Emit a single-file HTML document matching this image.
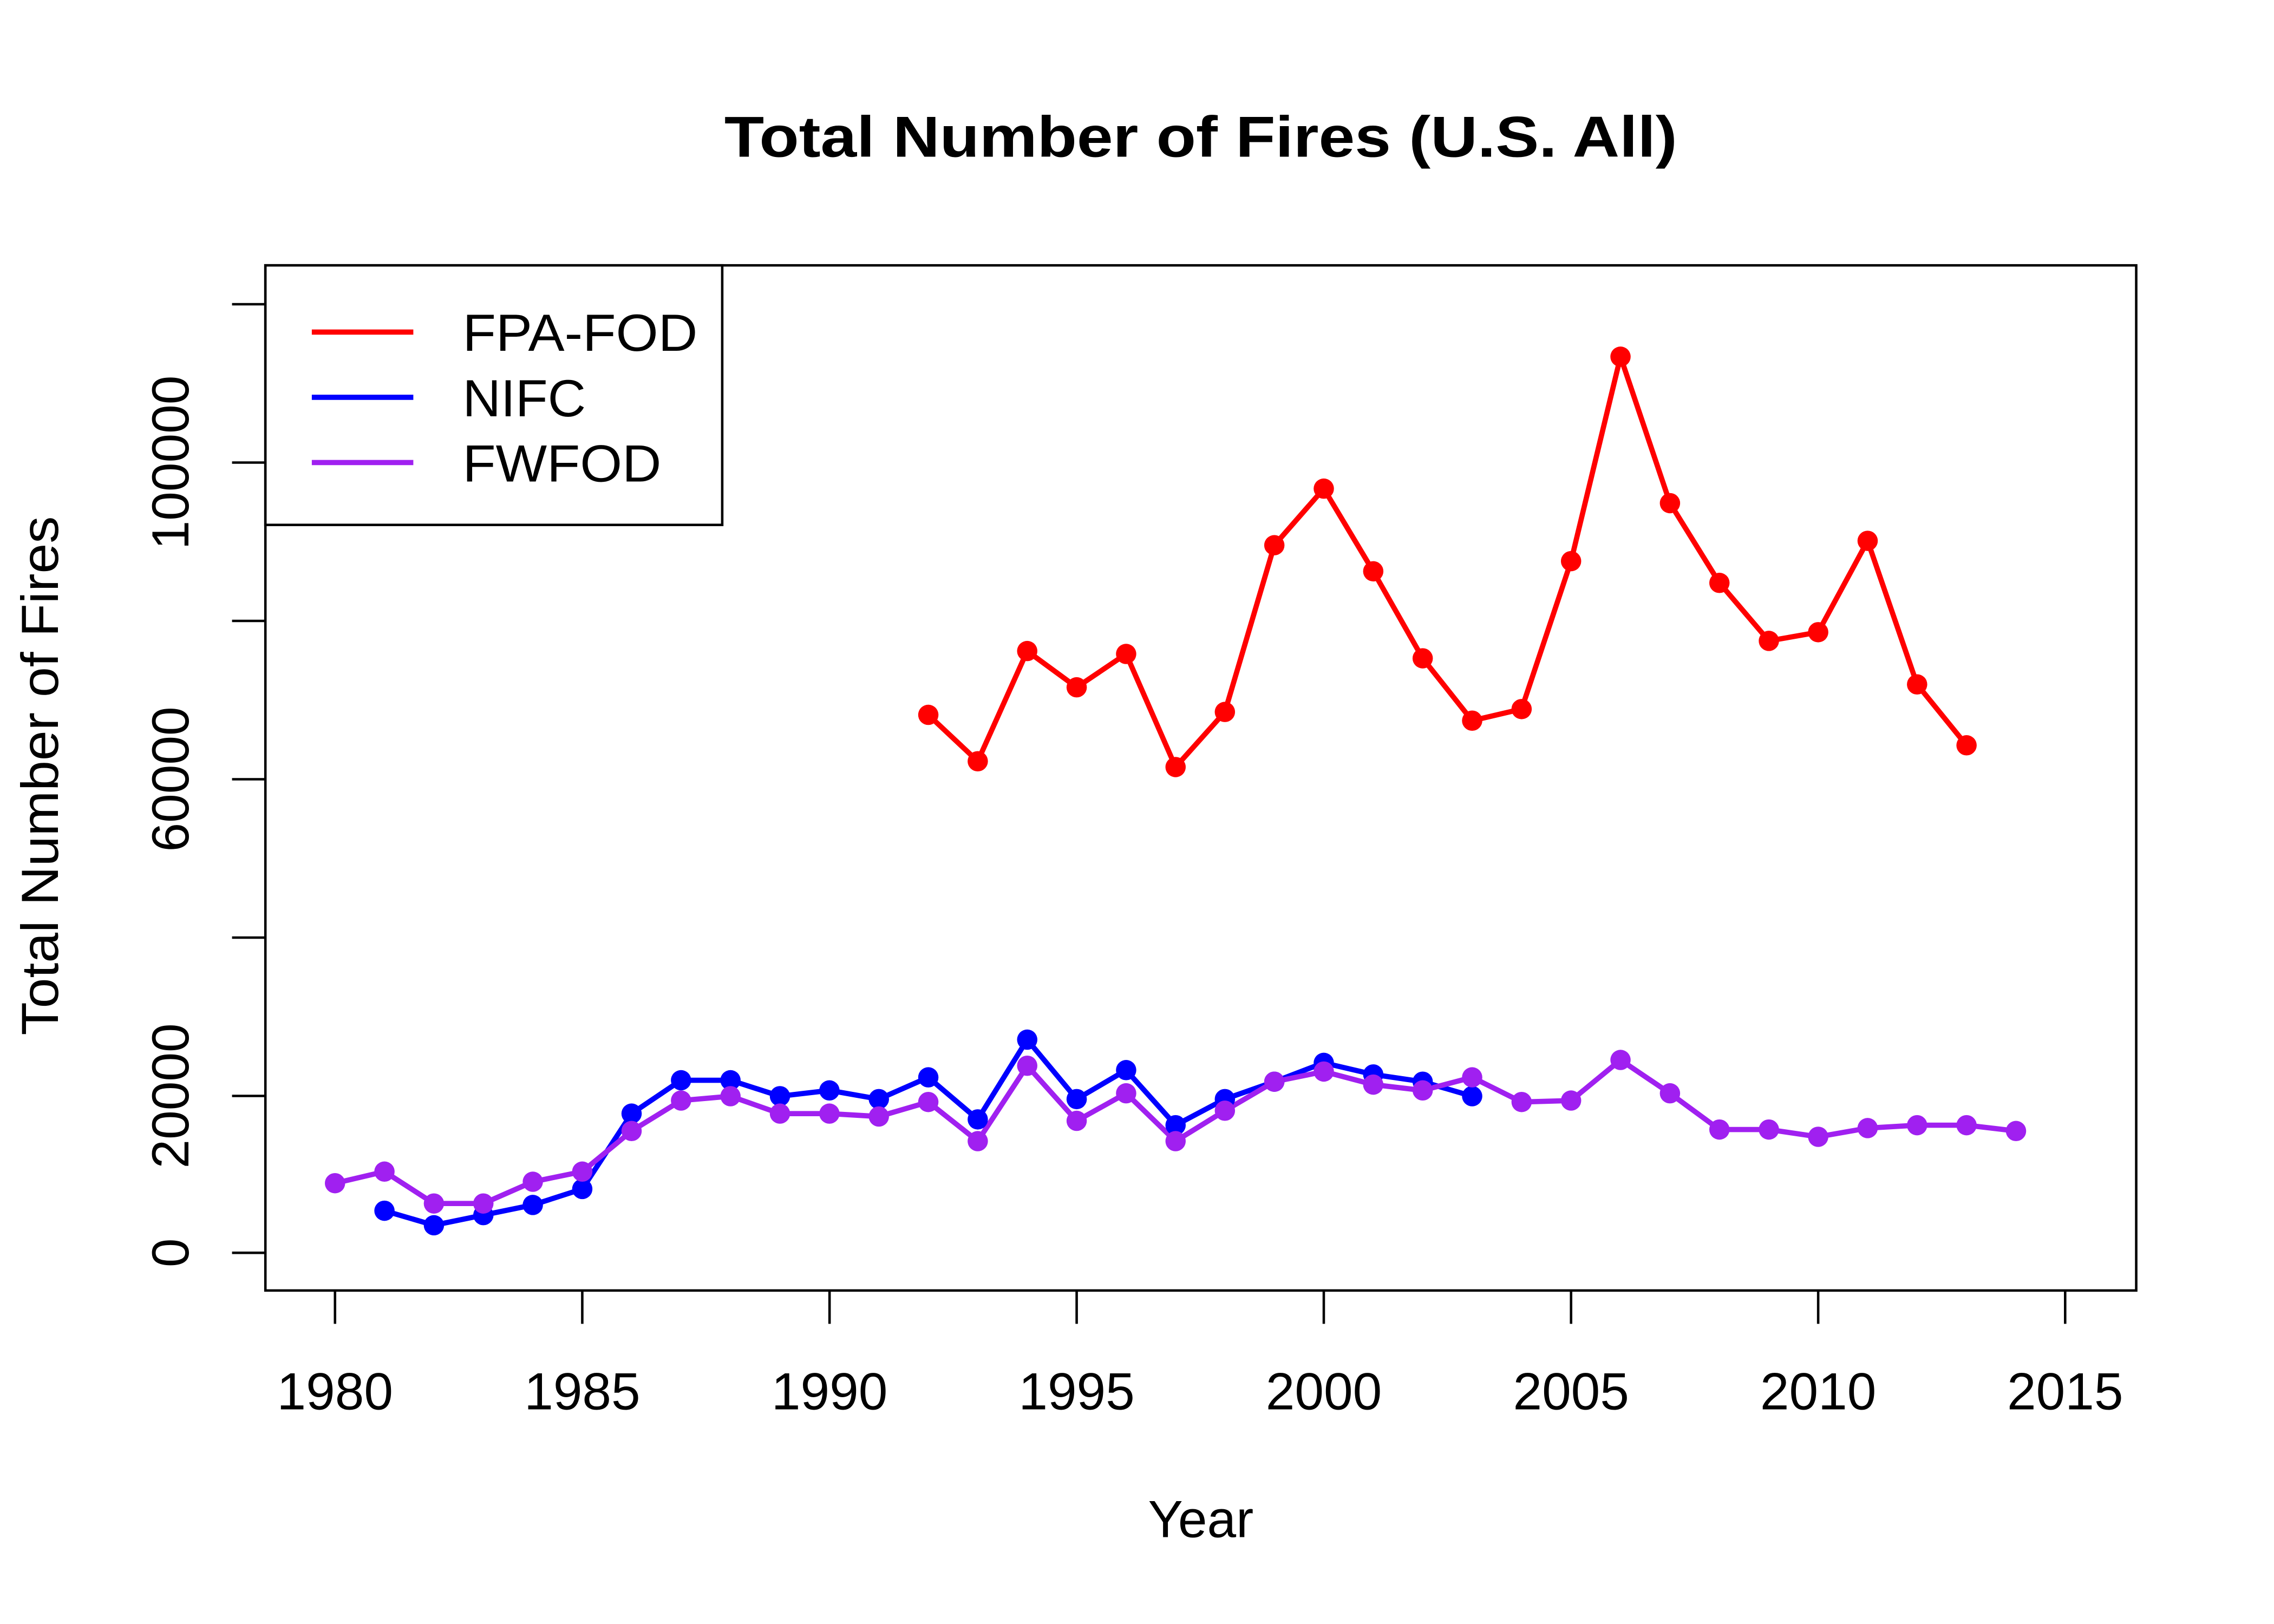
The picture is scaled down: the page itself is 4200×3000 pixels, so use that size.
<!DOCTYPE html>
<html><head><style>html,body{margin:0;padding:0;background:#fff}svg{display:block}</style></head><body>
<svg width="4200" height="3000" viewBox="0 0 1568 1120" xmlns="http://www.w3.org/2000/svg" font-family="Liberation Sans, Arial, sans-serif">
<rect width="1568" height="1120" fill="#fff"/>
<text x="828" y="108" font-size="40" font-weight="bold" text-anchor="middle" textLength="657" lengthAdjust="spacingAndGlyphs">Total Number of Fires (U.S. All)</text>
<rect x="183" y="183" width="1290" height="707" fill="none" stroke="#000" stroke-width="1.7"/>
<g stroke="#000" stroke-width="1.7">
<line x1="160" y1="864" x2="183" y2="864"/><line x1="160" y1="755.8" x2="183" y2="755.8"/><line x1="160" y1="646.6" x2="183" y2="646.6"/><line x1="160" y1="537.4" x2="183" y2="537.4"/><line x1="160" y1="428.2" x2="183" y2="428.2"/><line x1="160" y1="319" x2="183" y2="319"/><line x1="160" y1="209.8" x2="183" y2="209.8"/>
<line x1="231" y1="890" x2="231" y2="913"/><line x1="401.5" y1="890" x2="401.5" y2="913"/><line x1="572" y1="890" x2="572" y2="913"/><line x1="742.4" y1="890" x2="742.4" y2="913"/><line x1="912.8" y1="890" x2="912.8" y2="913"/><line x1="1083.3" y1="890" x2="1083.3" y2="913"/><line x1="1253.7" y1="890" x2="1253.7" y2="913"/><line x1="1424" y1="890" x2="1424" y2="913"/>
</g>
<g font-size="36" text-anchor="middle">
<text x="231" y="972">1980</text><text x="401.5" y="972">1985</text><text x="572" y="972">1990</text><text x="742.4" y="972">1995</text><text x="912.8" y="972">2000</text><text x="1083.3" y="972">2005</text><text x="1253.7" y="972">2010</text><text x="1424" y="972">2015</text>
<text transform="translate(130,864) rotate(-90)">0</text>
<text transform="translate(130,755.8) rotate(-90)">20000</text>
<text transform="translate(130,537.4) rotate(-90)">60000</text>
<text transform="translate(130,319) rotate(-90)">100000</text>
<text x="828" y="1060">Year</text>
<text transform="translate(40,535) rotate(-90)" textLength="358" lengthAdjust="spacingAndGlyphs">Total Number of Fires</text>
</g>
<g fill="none" stroke-width="3.6" stroke-linejoin="round">
<polyline stroke="#ff0000" points="640.1,493 674.2,525 708.3,449 742.4,474 776.5,451 810.6,529 844.6,491 878.7,376 912.8,337 946.9,394 981,454 1015.1,497 1049.2,489 1083.3,387 1117.4,246 1151.5,347 1185.6,402 1219.7,442 1253.7,436 1287.8,373 1321.9,472 1356,514"/>
<polyline stroke="#0000ff" points="265.1,835 299.2,845 333.3,838 367.4,831 401.5,820 435.5,768 469.6,745 503.7,745 537.8,756 571.9,752 606,758 640.1,743 674.2,772 708.3,717 742.4,758 776.5,738 810.6,776 844.6,758 878.7,746 912.8,733 946.9,741 981,746 1015.1,756"/>
<polyline stroke="#a020f0" points="231,816 265.1,808 299.2,830 333.3,830 367.4,815 401.5,808 435.5,780 469.6,759 503.7,756 537.8,768 571.9,768 606,770 640.1,760 674.2,787 708.3,735 742.4,773 776.5,754 810.6,787 844.6,766 878.7,746 912.8,739 946.9,748 981,752 1015.1,743 1049.2,760 1083.3,759 1117.4,731 1151.5,754 1185.6,779 1219.7,779 1253.7,784 1287.8,778 1321.9,776 1356,776 1390.1,780"/>
</g>
<g fill="#ff0000">
<circle cx="640.1" cy="493" r="7"/><circle cx="674.2" cy="525" r="7"/><circle cx="708.3" cy="449" r="7"/><circle cx="742.4" cy="474" r="7"/><circle cx="776.5" cy="451" r="7"/><circle cx="810.6" cy="529" r="7"/><circle cx="844.6" cy="491" r="7"/><circle cx="878.7" cy="376" r="7"/><circle cx="912.8" cy="337" r="7"/><circle cx="946.9" cy="394" r="7"/><circle cx="981" cy="454" r="7"/><circle cx="1015.1" cy="497" r="7"/><circle cx="1049.2" cy="489" r="7"/><circle cx="1083.3" cy="387" r="7"/><circle cx="1117.4" cy="246" r="7"/><circle cx="1151.5" cy="347" r="7"/><circle cx="1185.6" cy="402" r="7"/><circle cx="1219.7" cy="442" r="7"/><circle cx="1253.7" cy="436" r="7"/><circle cx="1287.8" cy="373" r="7"/><circle cx="1321.9" cy="472" r="7"/><circle cx="1356" cy="514" r="7"/>
</g>
<g fill="#0000ff">
<circle cx="265.1" cy="835" r="7"/><circle cx="299.2" cy="845" r="7"/><circle cx="333.3" cy="838" r="7"/><circle cx="367.4" cy="831" r="7"/><circle cx="401.5" cy="820" r="7"/><circle cx="435.5" cy="768" r="7"/><circle cx="469.6" cy="745" r="7"/><circle cx="503.7" cy="745" r="7"/><circle cx="537.8" cy="756" r="7"/><circle cx="571.9" cy="752" r="7"/><circle cx="606" cy="758" r="7"/><circle cx="640.1" cy="743" r="7"/><circle cx="674.2" cy="772" r="7"/><circle cx="708.3" cy="717" r="7"/><circle cx="742.4" cy="758" r="7"/><circle cx="776.5" cy="738" r="7"/><circle cx="810.6" cy="776" r="7"/><circle cx="844.6" cy="758" r="7"/><circle cx="878.7" cy="746" r="7"/><circle cx="912.8" cy="733" r="7"/><circle cx="946.9" cy="741" r="7"/><circle cx="981" cy="746" r="7"/><circle cx="1015.1" cy="756" r="7"/>
</g>
<g fill="#a020f0">
<circle cx="231" cy="816" r="7"/><circle cx="265.1" cy="808" r="7"/><circle cx="299.2" cy="830" r="7"/><circle cx="333.3" cy="830" r="7"/><circle cx="367.4" cy="815" r="7"/><circle cx="401.5" cy="808" r="7"/><circle cx="435.5" cy="780" r="7"/><circle cx="469.6" cy="759" r="7"/><circle cx="503.7" cy="756" r="7"/><circle cx="537.8" cy="768" r="7"/><circle cx="571.9" cy="768" r="7"/><circle cx="606" cy="770" r="7"/><circle cx="640.1" cy="760" r="7"/><circle cx="674.2" cy="787" r="7"/><circle cx="708.3" cy="735" r="7"/><circle cx="742.4" cy="773" r="7"/><circle cx="776.5" cy="754" r="7"/><circle cx="810.6" cy="787" r="7"/><circle cx="844.6" cy="766" r="7"/><circle cx="878.7" cy="746" r="7"/><circle cx="912.8" cy="739" r="7"/><circle cx="946.9" cy="748" r="7"/><circle cx="981" cy="752" r="7"/><circle cx="1015.1" cy="743" r="7"/><circle cx="1049.2" cy="760" r="7"/><circle cx="1083.3" cy="759" r="7"/><circle cx="1117.4" cy="731" r="7"/><circle cx="1151.5" cy="754" r="7"/><circle cx="1185.6" cy="779" r="7"/><circle cx="1219.7" cy="779" r="7"/><circle cx="1253.7" cy="784" r="7"/><circle cx="1287.8" cy="778" r="7"/><circle cx="1321.9" cy="776" r="7"/><circle cx="1356" cy="776" r="7"/><circle cx="1390.1" cy="780" r="7"/>
</g>
<rect x="183" y="183" width="315" height="179" fill="#fff" stroke="#000" stroke-width="1.7"/>
<g stroke-width="3.6">
<line x1="215" y1="229" x2="285" y2="229" stroke="#ff0000"/>
<line x1="215" y1="274" x2="285" y2="274" stroke="#0000ff"/>
<line x1="215" y1="319" x2="285" y2="319" stroke="#a020f0"/>
</g>
<g font-size="36">
<text x="319" y="242" textLength="162" lengthAdjust="spacingAndGlyphs">FPA-FOD</text>
<text x="319" y="287" textLength="85" lengthAdjust="spacingAndGlyphs">NIFC</text>
<text x="319" y="332" textLength="137" lengthAdjust="spacingAndGlyphs">FWFOD</text>
</g>
</svg>
</body></html>
